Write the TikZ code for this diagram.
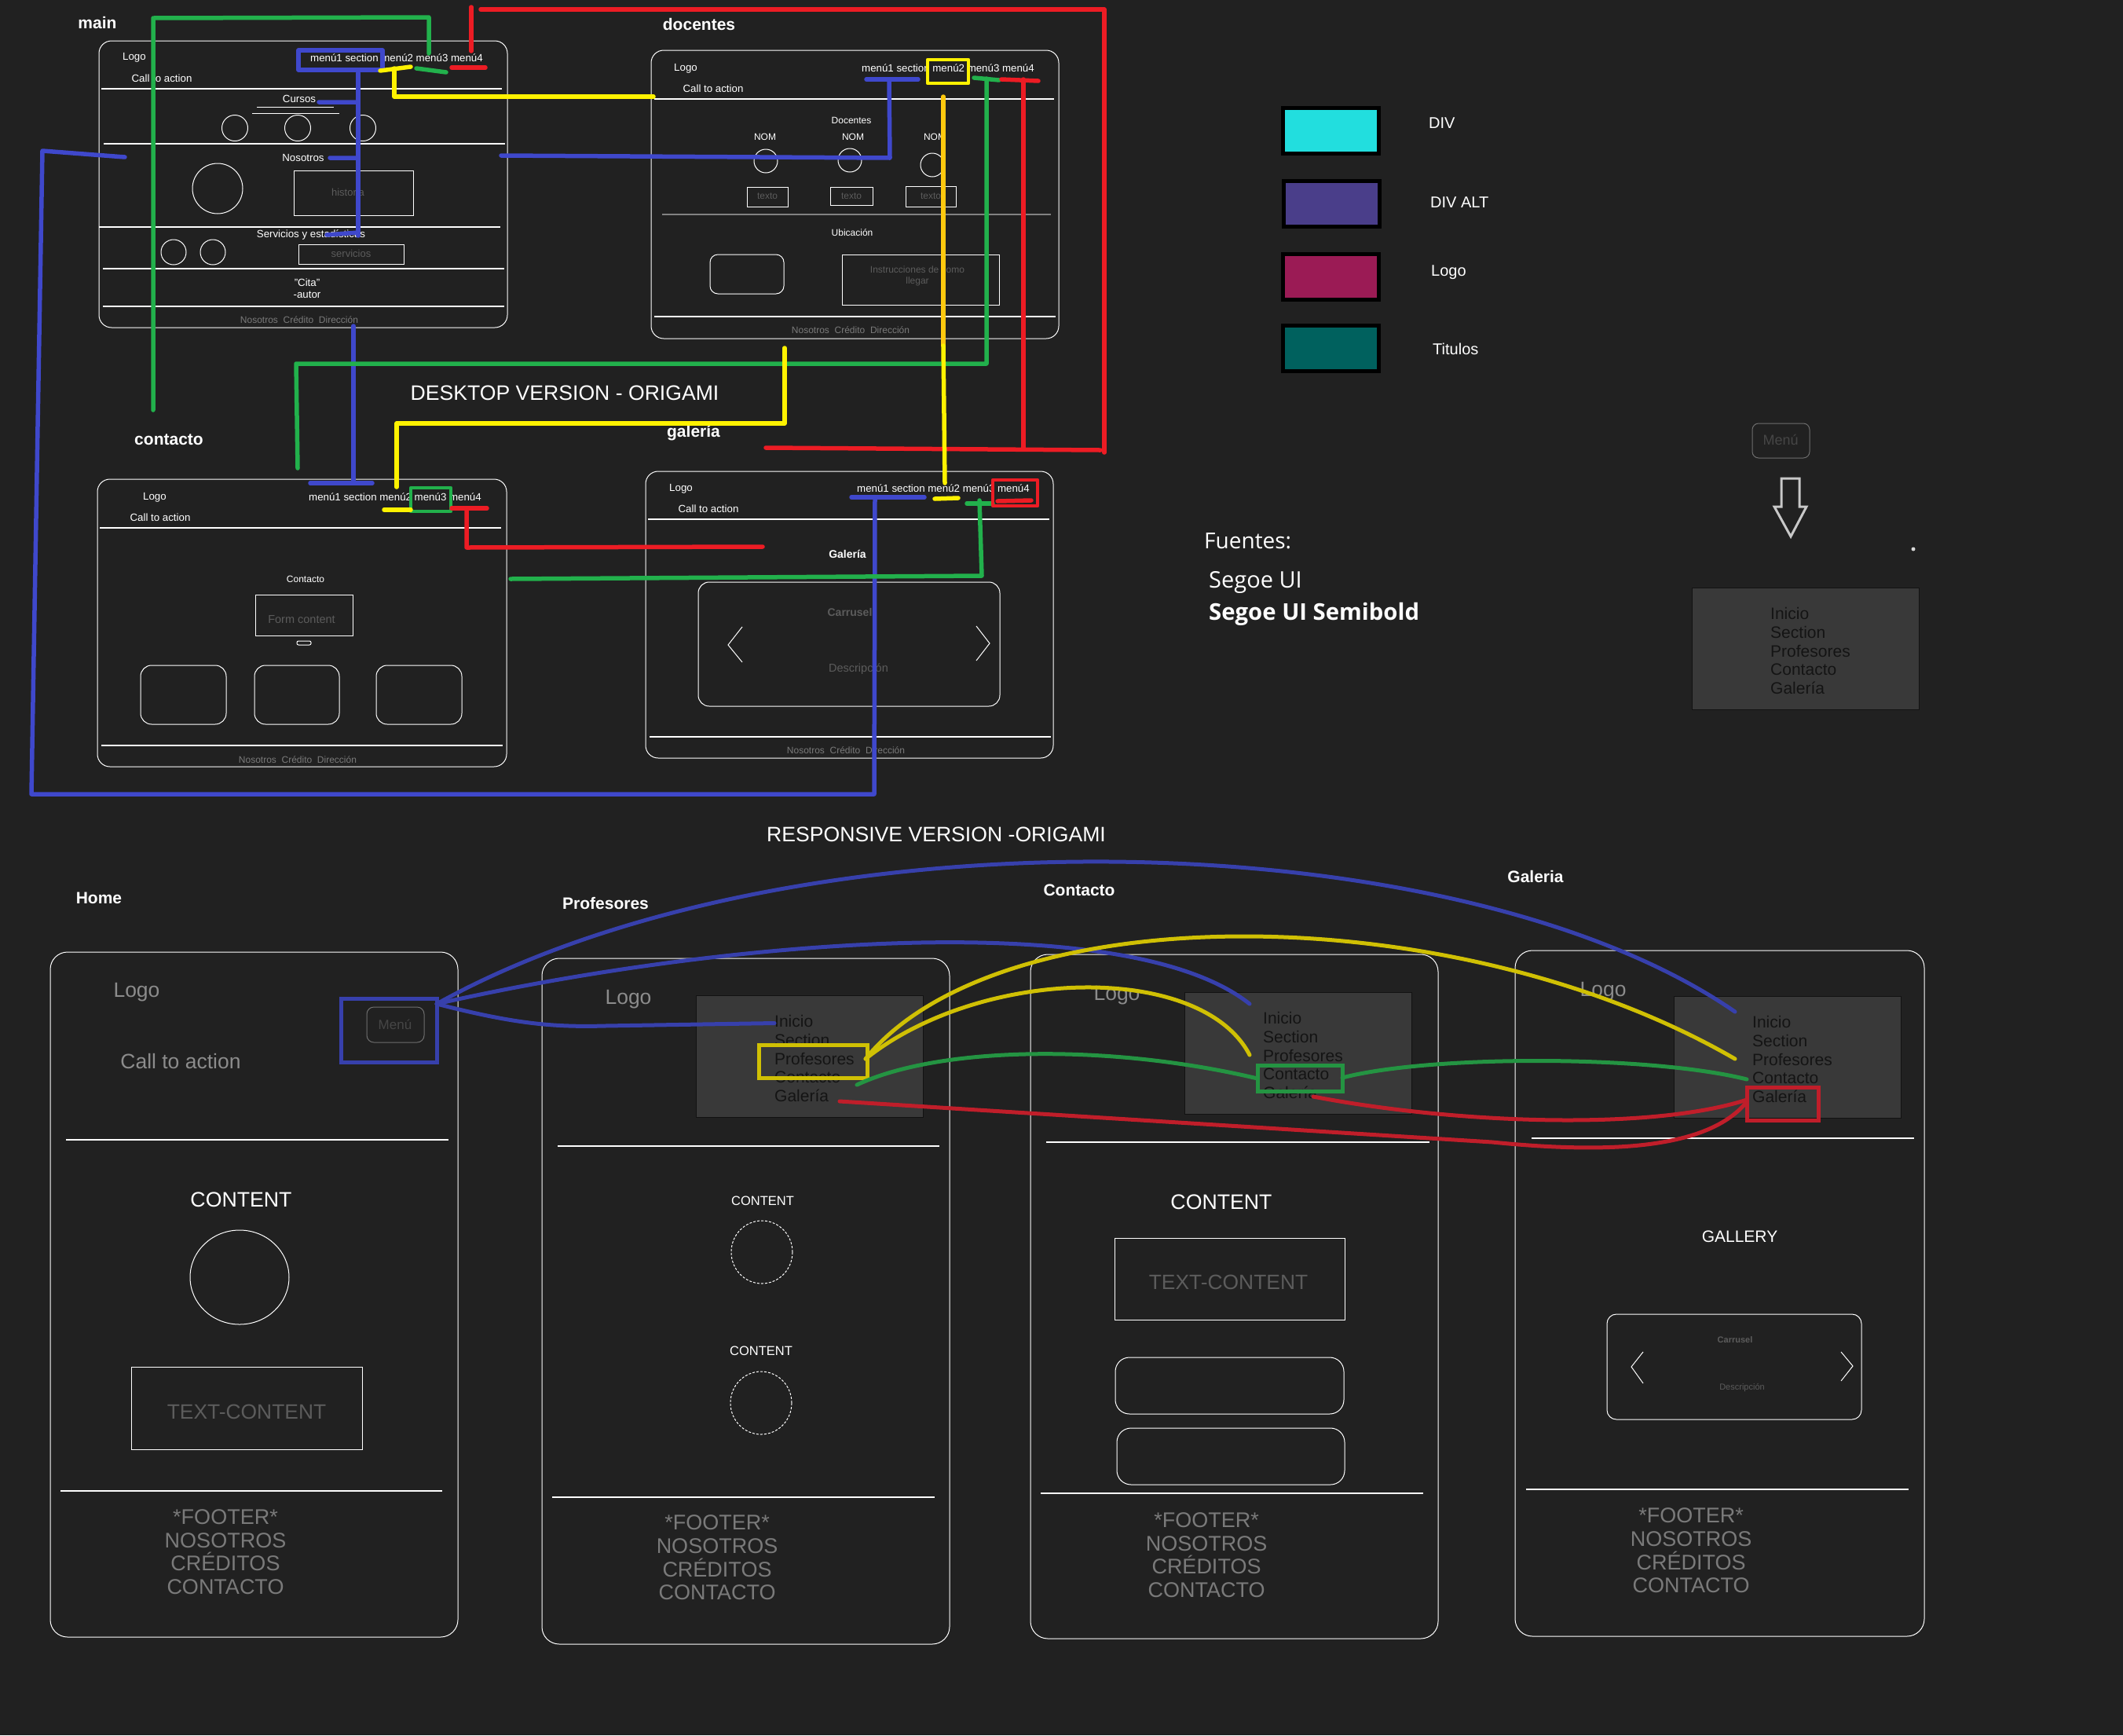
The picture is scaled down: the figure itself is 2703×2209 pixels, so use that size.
\documentclass[tikz,border=0pt]{standalone}
\usepackage{fontspec}
\setmainfont{Liberation Sans}
\newfontfamily\uifont{Open Sans}
\usetikzlibrary{calc}

\definecolor{bg}{RGB}{33,33,33}
\definecolor{pblue}{RGB}{63,72,204}
\definecolor{pgreen}{RGB}{34,177,76}
\definecolor{pyellow}{RGB}{255,242,0}
\definecolor{pgold}{RGB}{255,201,14}
\definecolor{pred}{RGB}{237,28,36}
\definecolor{bblue}{RGB}{55,64,172}
\definecolor{byellow}{RGB}{208,192,4}
\definecolor{bgreen}{RGB}{36,148,66}
\definecolor{bred}{RGB}{192,30,42}
\definecolor{holder}{RGB}{92,92,92}
\definecolor{foot}{RGB}{122,122,122}
\definecolor{softgray}{RGB}{140,140,140}
\definecolor{midline}{RGB}{130,130,130}
\definecolor{btnline}{RGB}{110,110,110}
\definecolor{btntext}{RGB}{70,70,70}
\definecolor{arrowgray}{RGB}{200,200,200}
\definecolor{dropfill}{RGB}{57,57,57}
\definecolor{dropline}{RGB}{18,18,18}
\definecolor{dropink}{RGB}{20,20,20}
\definecolor{swcyan}{RGB}{34,222,222}
\definecolor{swpurple}{RGB}{74,62,138}
\definecolor{swmagenta}{RGB}{155,27,85}
\definecolor{swteal}{RGB}{0,97,94}

\tikzset{
  txt/.style={inner sep=0pt, text=white},
  win/.style={draw=white, line width=1pt, rounded corners=16pt},
  phone/.style={draw=white, line width=1pt, rounded corners=22pt},
  rule/.style={draw=white, line width=1.3pt},
  frame/.style={draw=white, line width=1pt},
  hand/.style={line width=5.5pt, line cap=round, line join=round},
  soft/.style={line width=5pt, line cap=round, line join=round},
  dropbox/.style={fill=dropfill, draw=dropline, line width=1pt},
  dropitem/.style={anchor=west, inner sep=0pt, text=dropink, font=\fontsize{21}{21}\selectfont, text height=15pt, text depth=4.5pt},
  wtext/.style={txt, font=\fontsize{13.3}{13.3}\selectfont},
  small/.style={txt, font=\fontsize{12}{12}\selectfont},
  holdtext/.style={inner sep=0pt, text=holder, font=\fontsize{13}{13}\selectfont},
  deskfoot/.style={inner sep=0pt, text=foot, font=\fontsize{12}{12}\selectfont},
  title/.style={txt, font=\bfseries\fontsize{21}{21}\selectfont},
  banner/.style={txt, font=\fontsize{26.6}{26.6}\selectfont},
  legend/.style={txt, anchor=west, font=\fontsize{20}{20}\selectfont},
  swatch/.style={draw=black, line width=5pt},
  plogo/.style={inner sep=0pt, text=softgray, font=\fontsize{26.5}{26.5}\selectfont},
  pfoot/.style={inner sep=0pt, text=foot, align=center, font=\fontsize{27}{29.6}\selectfont},
  ptext/.style={inner sep=0pt, text=holder, font=\fontsize{26.4}{26.4}\selectfont},
  pbutton/.style={draw=btnline, line width=1pt, rounded corners=9pt},
  hilite/.style={line width=5pt},
}

% dropdown list: name, top-left x, top-left y
\newcommand\dropmenu[3]{%
  \draw[dropbox] (#2,#3) rectangle ++(289,155);
  \node[dropitem] (#1-ini) at ($(#2,#3)+(100,35.5)$) {Inicio};
  \node[dropitem] (#1-sec) at ($(#2,#3)+(100,59)$) {Section};
  \node[dropitem] (#1-pro) at ($(#2,#3)+(100,83)$) {Profesores};
  \node[dropitem] (#1-con) at ($(#2,#3)+(100,106.5)$) {Contacto};
  \node[dropitem] (#1-gal) at ($(#2,#3)+(100,130)$) {Galería};
}
\newcommand\deskfooter[2]{\node[deskfoot] (#1) at (#2) {Nosotros\ \ Crédito\ \ Dirección};}
\newcommand\phonefooter[2]{\node[pfoot] (#1) at (#2) {*FOOTER*\\NOSOTROS\\CRÉDITOS\\CONTACTO};}

\begin{document}
\begin{tikzpicture}[x=1pt,y=-1pt]
\useasboundingbox (0,0) rectangle (2703,2209);
\fill[bg] (0,0) rectangle (2703,2209);

%% ================= desktop: main =================
\draw[win] (126,52) rectangle (646,417);
\node[title] (lbl-main) at (124,29) {main};
\node[wtext] (m-logo) at (171,73) {Logo};
\node[wtext] (m-cta) at (206,100) {Call to action};
\node[wtext] (m-menu) at (505,74) {menú1 section menú2 menú3 menú4};
\draw[rule] (129,113) -- (639,113);
\node[wtext] (m-cursos) at (381,126) {Cursos};
\draw[frame] (327,136) -- (425,136) (321,144) -- (432,144);
\foreach \cx in {299,379,462} \draw[frame] (\cx,163) circle[radius=16.5pt];
\draw[rule] (132,183) -- (643,183);
\node[wtext] (m-nos) at (386,201) {Nosotros};
\draw[frame] (277,240) circle[radius=32pt];
\draw[frame] (374,217) rectangle (526,274);
\node[holdtext] (m-hist) at (443,245) {historia};
\draw[rule] (126,289) -- (637,289);
\node[wtext] (m-serv) at (396,299) {Servicios y estadísticas};
\draw[frame] (221,321) circle[radius=16pt] (271,321) circle[radius=16pt];
\draw[frame] (380,311) rectangle (514,336);
\node[holdtext] (m-servbox) at (447,323) {servicios};
\draw[rule] (131,342) -- (642,342);
\node[txt, align=center, font=\fontsize{13.3}{15}\selectfont] (m-cita) at (391,367) {"Cita"\\-autor};
\draw[rule] (131,390) -- (642,390);
\deskfooter{m-foot}{381,407}

%% ================= desktop: docentes =================
\draw[win] (829,64) rectangle (1348,431);
\node[title] (lbl-doc) at (890,31) {docentes};
\node[wtext] (d-logo) at (873,87) {Logo};
\node[wtext] (d-cta) at (908,113) {Call to action};
\node[wtext] (d-menu) at (1207,87) {menú1 section menú2 menú3 menú4};
\draw[rule] (833,126) -- (1342,126);
\node[small] (d-head) at (1084,153) {Docentes};
\node[small] (d-nom1) at (974,174) {NOM};
\node[small] (d-nom2) at (1086,174) {NOM};
\node[small] (d-nom3) at (1190,174) {NOM};
\draw[frame] (975,205) circle[radius=15pt] (1082,204) circle[radius=15pt] (1187,210) circle[radius=15pt];
\draw[frame] (951,238) rectangle (1003,263) (1057,238) rectangle (1111,261) (1153,237) rectangle (1217,263);
\node[holdtext, font=\fontsize{12}{12}\selectfont] (d-t1) at (977,250) {texto};
\node[holdtext, font=\fontsize{12}{12}\selectfont] (d-t2) at (1084,250) {texto};
\node[holdtext, font=\fontsize{12}{12}\selectfont] (d-t3) at (1185,250) {texto};
\draw[midline, line width=1.2pt] (843,273) -- (1338,273);
\node[small] (d-ubi) at (1085,296) {Ubicación};
\draw[frame, rounded corners=10pt] (904,324) rectangle (998,374);
\draw[frame] (1072,324) rectangle (1272,388);
\node[holdtext, align=center, font=\fontsize{12}{14}\selectfont] (d-instr) at (1168,351) {Instrucciones de como\\llegar};
\draw[rule] (833,403) -- (1344,403);
\deskfooter{d-foot}{1083,420}

%% ================= desktop: contacto =================
\draw[win] (124,610) rectangle (645,976);
\node[title] (lbl-con) at (215,560) {contacto};
\node[wtext] (c-logo) at (197,633) {Logo};
\node[wtext] (c-cta) at (204,659) {Call to action};
\node[wtext] (c-menu) at (503,633) {menú1 section menú2 menú3 menú4};
\draw[rule] (127,672) -- (638,672);
\node[small] (c-head) at (389,737) {Contacto};
\draw[frame] (325,757) rectangle (449,809);
\node[holdtext, font=\fontsize{14.5}{14.5}\selectfont] (c-form) at (384,789) {Form content};
\draw[frame, rounded corners=2pt] (378,816) rectangle (396,821);
\draw[frame, rounded corners=14pt] (179,847) rectangle (288,922) (324,847) rectangle (432,922) (479,847) rectangle (588,922);
\draw[rule] (129,949) -- (640,949);
\deskfooter{c-foot}{379,967}

%% ================= desktop: galeria =================
\draw[win] (822,600) rectangle (1341,965);
\node[title] (lbl-gal) at (883,551) {galería};
\node[wtext] (g-logo) at (867,622) {Logo};
\node[wtext] (g-cta) at (902,648) {Call to action};
\node[wtext] (g-menu) at (1201,622) {menú1 section menú2 menú3 menú4};
\draw[rule] (825,661) -- (1336,661);
\node[txt, font=\bfseries\fontsize{14}{14}\selectfont] (g-head) at (1079,705) {Galería};
\draw[frame, rounded corners=14pt] (889,741) rectangle (1273,899);
\node[holdtext, font=\bfseries\fontsize{14}{14}\selectfont] (g-car) at (1082,779) {Carrusel};
\draw[frame] (945,798) -- (927,821) -- (945,843) (1243,797) -- (1260,819) -- (1243,841);
\node[holdtext, font=\fontsize{14.5}{14.5}\selectfont] (g-desc) at (1093,852) {Descripción};
\draw[rule] (827,938) -- (1338,938);
\deskfooter{g-foot}{1077,955}

\node[banner] (desk-title) at (719,500) {DESKTOP VERSION - ORIGAMI};

%% ================= colour legend =================
\draw[swatch, fill=swcyan] (1633.5,137.5) rectangle (1755.5,195.5);
\draw[swatch, fill=swpurple] (1634.5,230.5) rectangle (1756.5,288.5);
\draw[swatch, fill=swmagenta] (1633.5,323.5) rectangle (1755.5,381.5);
\draw[swatch, fill=swteal] (1633.5,414.5) rectangle (1755.5,472.5);
\node[legend] (leg-div) at (1819,157) {DIV};
\node[legend] (leg-alt) at (1821,258) {DIV ALT};
\node[legend] (leg-logo) at (1822,347) {Logo};
\node[legend] (leg-tit) at (1824,444) {Titulos};

%% ================= fonts =================
\node[txt, anchor=west, font=\uifont\fontsize{28}{28}\selectfont] (fuentes) at (1533,689) {Fuentes:};
\node[txt, anchor=west, font=\uifont\fontsize{29}{29}\selectfont] (f-reg) at (1539,741) {Segoe UI};
\node[txt, anchor=west, font=\uifont\bfseries\fontsize{29.3}{29.3}\selectfont] (f-semi) at (1539,782) {Segoe UI Semibold};

%% ================= menu button demo =================
\draw[pbutton, rounded corners=8pt] (2231,539) rectangle (2304,583);
\node[inner sep=0pt, text=btntext, font=\fontsize{18}{18}\selectfont] (demo-btn) at (2267,560) {Menú};
\draw[arrowgray, line width=3pt, line join=miter] (2268,609) -- (2291,609) -- (2291,645) -- (2300,645) -- (2280,683) -- (2259,645) -- (2268,645) -- cycle;
\fill[white!85!black] (2436,699) circle[radius=2.5pt];
\dropmenu{demo}{2154}{748}

\node[banner] (resp-title) at (1192,1062) {RESPONSIVE VERSION -ORIGAMI};

%% ================= phone: Home =================
\node[title] (lbl-home) at (126,1143) {Home};
\draw[phone] (64,1212) rectangle (583,2084);
\node[plogo] (h-logo) at (174,1263) {Logo};
\node[plogo] (h-cta) at (230,1351) {Call to action};
\draw[pbutton] (467,1282) rectangle (540,1327);
\node[inner sep=0pt, text=btntext, font=\fontsize{17}{17}\selectfont] (h-btn) at (503,1304) {Menú};
\draw[rule] (84,1451) -- (571,1451);
\node[txt, font=\fontsize{26.7}{26.7}\selectfont] (h-content) at (307,1527) {CONTENT};
\draw[frame] (305,1626) ellipse[x radius=63pt, y radius=60pt];
\draw[frame] (167,1740) rectangle (461,1845);
\node[ptext] (h-text) at (314,1797) {TEXT-CONTENT};
\draw[rule] (77,1898) -- (563,1898);
\phonefooter{h-foot}{287,1975.5}

%% ================= phone: Profesores =================
\node[title] (lbl-prof) at (771,1150) {Profesores};
\draw[phone] (690,1220) rectangle (1209,2093);
\node[plogo] (p-logo) at (800,1272) {Logo};
\dropmenu{pp}{886}{1267}
\draw[rule] (710,1459) -- (1196,1459);
\node[txt, font=\fontsize{16.5}{16.5}\selectfont] (p-c1) at (971,1529) {CONTENT};
\draw[frame, dash pattern=on 3pt off 2pt] (970,1594) ellipse[x radius=39pt, y radius=40pt];
\node[txt, font=\fontsize{16.5}{16.5}\selectfont] (p-c2) at (969,1720) {CONTENT};
\draw[frame, dash pattern=on 3pt off 2pt] (969,1786) ellipse[x radius=39pt, y radius=40pt];
\draw[rule] (703,1906) -- (1190,1906);
\phonefooter{p-foot}{913,1983}

%% ================= phone: Contacto =================
\node[title] (lbl-cont) at (1374,1133) {Contacto};
\draw[phone] (1312,1215) rectangle (1831,2086);
\node[plogo] (k-logo) at (1422,1267) {Logo};
\dropmenu{kk}{1508}{1263}
\draw[rule] (1332,1454) -- (1820,1454);
\node[txt, font=\fontsize{26.7}{26.7}\selectfont] (k-content) at (1555,1530) {CONTENT};
\draw[frame] (1419,1576) rectangle (1712,1680);
\node[ptext] (k-text) at (1564,1632) {TEXT-CONTENT};
\draw[frame, rounded corners=18pt] (1420,1728) rectangle (1711,1800) (1422,1818) rectangle (1712,1890);
\draw[rule] (1325,1901) -- (1812,1901);
\phonefooter{k-foot}{1536,1979.5}

%% ================= phone: Galeria =================
\node[title] (lbl-galm) at (1955,1116) {Galeria};
\draw[phone] (1929,1210) rectangle (2450,2083);
\node[plogo] (q-logo) at (2041,1262) {Logo};
\dropmenu{qq}{2131}{1268}
\draw[rule] (1950,1449) -- (2437,1449);
\node[txt, font=\fontsize{21}{21}\selectfont] (q-gallery) at (2215,1574) {GALLERY};
\draw[frame, rounded corners=12pt] (2046,1673) rectangle (2370,1807);
\node[holdtext, font=\bfseries\fontsize{11}{11}\selectfont] (q-car) at (2209,1706) {Carrusel};
\node[holdtext, font=\fontsize{11}{11}\selectfont] (q-desc) at (2218,1767) {Descripción};
\draw[frame] (2092,1721) -- (2077,1740) -- (2092,1761) (2344,1721) -- (2359,1739) -- (2344,1758);
\draw[rule] (1943,1896) -- (2430,1896);
\phonefooter{q-foot}{2153,1974}

%% ================= desktop links =================
% blue: menú1 section
\draw[hand, pblue] (380,64) rectangle (487,89);
\draw[hand, pblue] (456,93) -- (456,300);
\draw[hand, pblue] (406,130) -- (456,130) (420,201) -- (456,201) (416,299) -- (456,296);
\draw[hand, pblue] (450,415) -- (450,615);
\draw[hand, pblue] (395,615) -- (474,615);
\draw[hand, pblue] (159,200) -- (54,192) -- (40,1011) -- (1113,1011) -- (1114,633);
\draw[hand, pblue] (1084,633) -- (1177,633);
\draw[hand, pblue] (638,198) -- (1133,201) -- (1132,101);
\draw[hand, pblue] (1103,101) -- (1169,101);
% green: menú3
\draw[hand, pgreen] (195,522) -- (195,23) -- (546,22) -- (546,68);
\draw[hand, pgreen] (530,87) -- (568,92);
\draw[hand, pgreen] (1240,99) -- (1272,102);
\draw[hand, pgreen] (1256,100) -- (1256,463) -- (377,463) -- (379,596);
\draw[hand, pgreen, line width=4.5pt, line cap=butt] (523,621) rectangle (574,651);
\draw[hand, pgreen] (1231,641) -- (1264,641);
\draw[hand, pgreen] (1247,637) -- (1250,733) -- (650,737);
% red: menú4
\draw[hand, pred] (575,86) -- (618,86);
\draw[hand, pred] (600,65) -- (600,9);
\draw[hand, pred] (612,12) -- (1406,12) -- (1406,576);
\draw[hand, pred] (1401,573) -- (975,570);
\draw[hand, pred] (1275,101) -- (1322,103);
\draw[hand, pred] (1303,101) -- (1303,570);
\draw[hand, pred] (575,647) -- (620,647);
\draw[hand, pred] (594,647) -- (594,697) -- (971,696);
\draw[hand, pred, line width=4.5pt, line cap=butt] (1264,611) rectangle (1321,644);
\draw[hand, pred] (1270,638) -- (1313,637);
% yellow: menú2
\draw[hand, pyellow] (484,90) -- (523,85);
\draw[hand, pyellow] (502,87) -- (502,123) -- (832,123);
\draw[hand, pyellow, line width=4.5pt, line cap=butt] (1181,76) rectangle (1233,106);
\draw[hand, pgold] (1201,123) -- (1201,440);
\draw[hand, pyellow] (1201,440) -- (1203,615);
\draw[hand, pyellow] (1190,635) -- (1220,634);
\draw[hand, pyellow] (999,443) -- (999,539) -- (505,539) -- (505,620);
\draw[hand, pyellow] (489,649) -- (523,649);

%% ================= responsive links =================
\draw[bblue, hilite] (434,1271) rectangle (556,1352);
\draw[byellow, hilite] (966,1330) rectangle (1104,1372);
\draw[bgreen, hilite] (1601,1356) rectangle (1709,1389);
\draw[bred, hilite] (2224,1384) rectangle (2315,1426);

\coordinate (menu-out) at (556,1278);
\coordinate (prof-out) at (1102,1348);
\coordinate (cont-out) at (1709,1372);

% blue: from the menu button to each Inicio
\draw[soft, bblue] (menu-out) .. controls (650,1302) and (700,1308) .. (770,1306) -- (pp-ini.west);
\draw[soft, bblue] (menu-out) .. controls (900,1200) and (1430,1150) .. (1591,1278);
\draw[soft, bblue] (menu-out) .. controls (1000,1030) and (1850,1040) .. (2209,1288);
% yellow: Profesores
\draw[soft, byellow] (prof-out) .. controls (1250,1230) and (1530,1225) .. (1591,1343);
\draw[soft, byellow] (prof-out) .. controls (1270,1140) and (1850,1140) .. (2209,1348);
% green: Contacto
\draw[soft, bgreen] (1091,1381) .. controls (1200,1330) and (1420,1330) .. (1601,1373);
\draw[soft, bgreen] (cont-out) .. controls (1820,1343) and (2100,1343) .. (2224,1374);
% red: Galería
\draw[soft, bred] (1069,1402) -- (1900,1454) .. controls (2040,1468) and (2170,1465) .. (2222,1405);
\draw[soft, bred] (1672,1396) .. controls (1850,1430) and (2100,1440) .. (2224,1400);
\end{tikzpicture}
\end{document}
